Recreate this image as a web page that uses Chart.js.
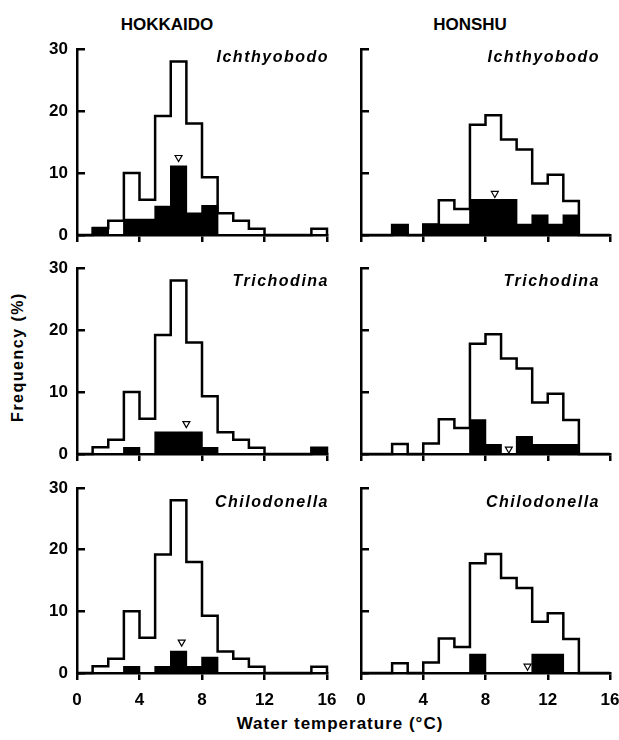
<!DOCTYPE html>
<html><head><meta charset="utf-8">
<script src="https://cdn.jsdelivr.net/npm/chart.js@4"></script>
<style>
html,body{margin:0;padding:0;background:#fff;}
body{width:619px;height:740px;position:relative;overflow:hidden;font-family:"Liberation Sans",Arial,Helvetica,sans-serif;color:#000;}
canvas{position:absolute;}
.lbl{position:absolute;font-weight:bold;white-space:nowrap;line-height:18px;font-size:16px;}
.sp{font-style:italic;letter-spacing:1.5px;text-align:right;}
</style></head><body>
<div class="lbl" style="left:67px;top:16px;width:200px;text-align:center;font-size:17px;">HOKKAIDO</div>
<div class="lbl" style="left:370px;top:16px;width:200px;text-align:center;font-size:17px;">HONSHU</div>
<div class="lbl" style="left:-82px;top:348px;width:200px;text-align:center;letter-spacing:1.5px;transform:rotate(-90deg);">Frequency (%)</div>
<div class="lbl" style="left:140px;top:715px;width:400px;text-align:center;letter-spacing:1px;font-size:17px;">Water temperature (°C)</div>

<canvas id="c00" width="340" height="213"></canvas>
<canvas id="c01" width="279" height="213"></canvas>
<canvas id="c10" width="340" height="213"></canvas>
<canvas id="c11" width="279" height="213"></canvas>
<canvas id="c20" width="340" height="240"></canvas>
<canvas id="c21" width="279" height="240"></canvas>

<script>
// Bin left edges (°C), 1 °C bins from 0 to 16
const binEdges = [0,1,2,3,4,5,6,7,8,9,10,11,12,13,14,15];
const xTicks = [0,4,8,12,16];
const yTicks = [0,10,20,30];
const regions = ["HOKKAIDO","HONSHU"];
const parasites = ["Ichthyobodo","Trichodina","Chilodonella"];

// Frequency (%) of all fish examined, per 1 °C bin
const hokkaidoTotal = [0,1.1,2.3,10.0,5.7,19.2,28.0,18.0,9.3,3.5,2.3,1.0,0,0,0,1.0];
const honshuTotal   = [0,0,1.6,0,1.7,5.6,4.2,17.8,19.3,15.4,13.8,8.3,9.7,5.5,0,0];

// Frequency (%) of infected fish, per 1 °C bin
const hokkaidoIchthyobodo  = [0,1.2,0,2.5,2.5,4.6,11.1,3.5,4.7,0,0,0,0,0,0,0];
const hokkaidoTrichodina   = [0,0,0,1.0,0,3.5,3.5,3.5,1.0,0,0,0,0,0,0,1.0];
const hokkaidoChilodonella = [0,0,0,1.0,0,1.0,3.5,1.0,2.5,0,0,0,0,0,0,0];
const honshuIchthyobodo    = [0,0,1.6,0,1.7,1.7,1.7,5.7,5.7,5.7,1.7,3.2,1.7,3.2,0,0];
const honshuTrichodina     = [0,0,0,0,0,0,0,5.5,1.5,0,2.8,1.5,1.5,1.5,0,0];
const honshuChilodonella   = [0,0,0,0,0,0,0,3.0,0,0,0,3.0,3.0,0,0,0];

// Mean water temperature markers (x °C, y position %)
const meanX = [[6.5,7.0,6.7],[8.6,9.5,10.7]];
const meanY = [[12.5,4.9,5.0],[6.7,0.8,1.1]];

const infected = [
  [hokkaidoIchthyobodo, hokkaidoTrichodina, hokkaidoChilodonella],
  [honshuIchthyobodo, honshuTrichodina, honshuChilodonella]
];
const totals = [hokkaidoTotal, honshuTotal];

// layout
const colGeom = [{left:0, yw:77, cw:250, pr:13}, {left:340, yw:21, cw:249, pr:9}];
const rowGeom = [{top:49, h:186, xh:12}, {top:268, h:186, xh:12}, {top:488, h:185, xh:39}];
const PADTOP = 15;

function stepPts(vals){
  const pts = binEdges.map((e,i)=>({x:e, y:vals[i]}));
  pts.push({x:16, y:0});
  return pts;
}

const tickFont = {family:'"Liberation Sans", Arial, sans-serif', size:17, weight:'bold'};

for (let r=0;r<3;r++){
  for (let c=0;c<2;c++){
    const cg = colGeom[c], rg = rowGeom[r];
    const cv = document.getElementById('c'+r+c);
    const W = cg.yw + cg.cw + cg.pr;
    const H = PADTOP + rg.h + rg.xh;
    cv.width = W; cv.height = H;
    cv.style.left = cg.left+'px';
    cv.style.top = (rg.top-PADTOP)+'px';

    // species label
    const d = document.createElement('div');
    d.className = 'lbl sp';
    d.textContent = parasites[r];
    const cy = [57,281,502][r];
    d.style.top = (cy-9)+'px';
    d.style.right = (c===0 ? 619-329 : 619-600)+'px';
    document.body.appendChild(d);

    new Chart(cv, {
      type:'line',
      data:{datasets:[
        {type:'scatter', data:[{x:meanX[c][r], y:meanY[c][r]}], pointStyle:'triangle', rotation:180,
         pointRadius:4, pointBackgroundColor:'#fff', pointBorderColor:'#000', pointBorderWidth:1.2, showLine:false, clip:false},
        {data:stepPts(totals[c]), stepped:true, borderColor:'#000', borderWidth:2.5, pointRadius:0, fill:false, clip:false},
        {data:stepPts(infected[c][r]), stepped:true, borderColor:'#000', borderWidth:1.5, pointRadius:0,
         fill:'origin', backgroundColor:'#000', clip:false}
      ]},
      options:{
        responsive:false, animation:false, events:[],
        layout:{padding:{top:PADTOP, right:cg.pr, bottom:0, left:0}},
        plugins:{legend:{display:false}, tooltip:{enabled:false}, title:{display:false}},
        scales:{
          x:{type:'linear', min:0, max:16,
             afterBuildTicks:(s)=>{ s.ticks = xTicks.map(v=>({value:v})); },
             afterFit:(s)=>{ s.height = rg.xh; s.paddingLeft=0; s.paddingRight=0; },
             ticks:{display: r===2, color:'#000', padding:10, autoSkip:false, maxRotation:0, font:tickFont},
             grid:{drawOnChartArea:false, drawTicks:true, tickLength:7, color:'#000', lineWidth:2.5},
             border:{display:true, color:'#000', width:2.5}},
          y:{type:'linear', min:0, max:30,
             afterBuildTicks:(s)=>{ s.ticks = yTicks.map(v=>({value:v})); },
             afterFit:(s)=>{ s.width = cg.yw; s.paddingTop=0; s.paddingBottom=0; },
             ticks:{display: c===0, color:'#000', padding:17, font:tickFont},
             grid:{drawOnChartArea:false, drawTicks:true, tickLength:-8, color:'#000', lineWidth:2.5},
             border:{display:true, color:'#000', width:2.5}}
        }
      }
    });
  }
}
</script>
</body></html>
